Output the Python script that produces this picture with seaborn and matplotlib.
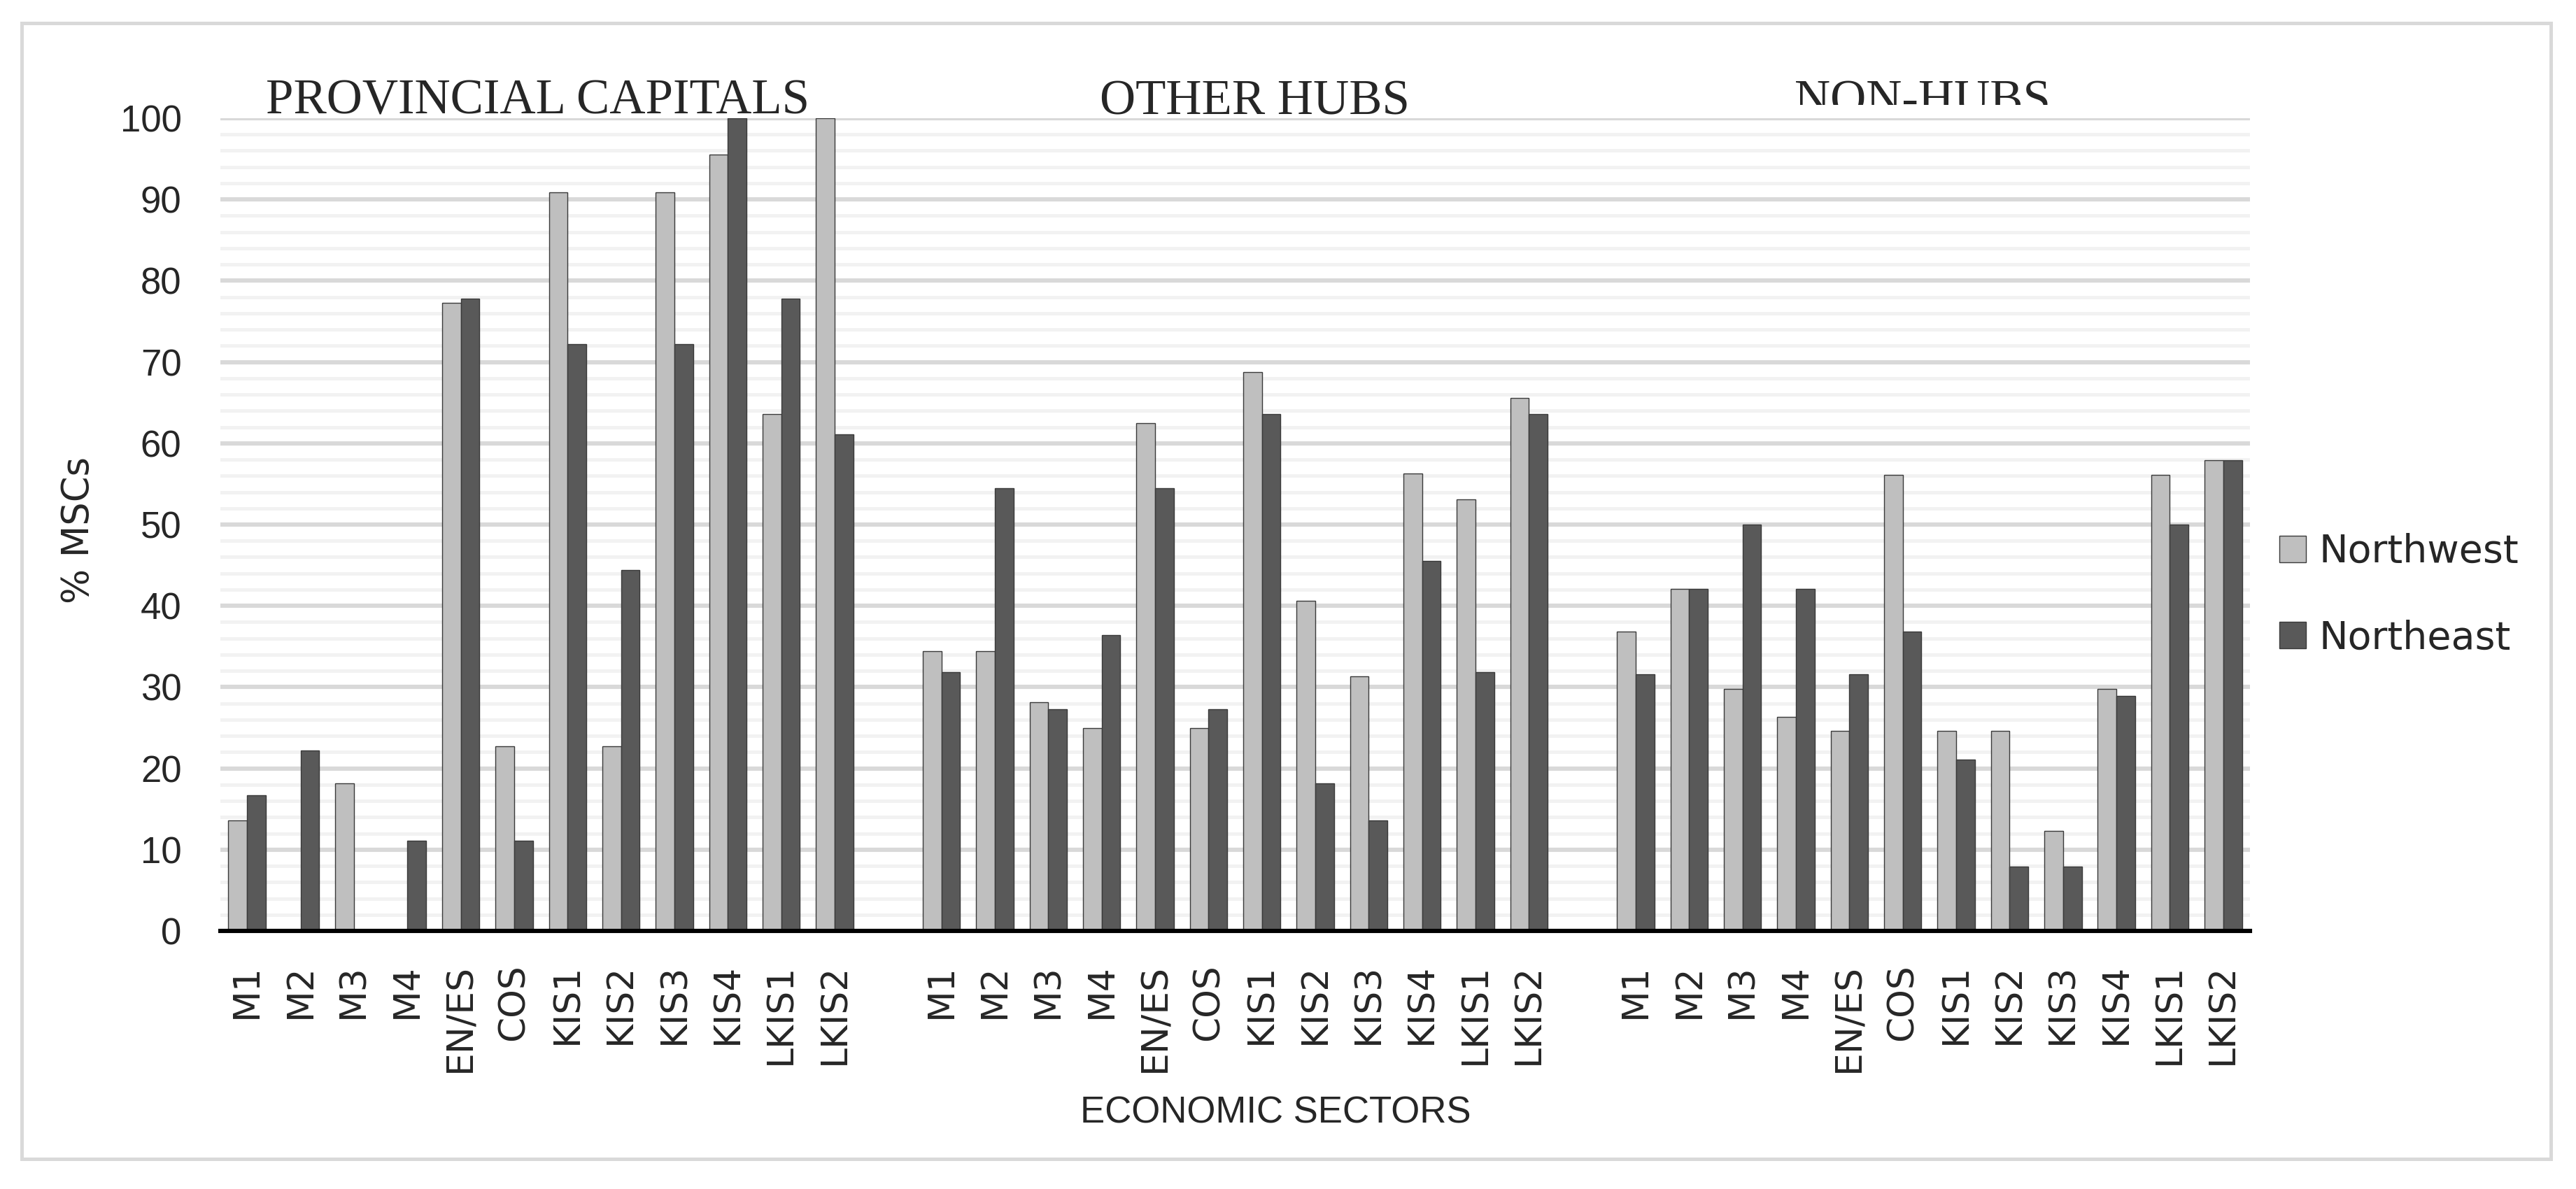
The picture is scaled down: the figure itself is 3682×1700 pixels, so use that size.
import matplotlib
matplotlib.use("Agg")
import matplotlib.pyplot as plt
from matplotlib.ticker import MultipleLocator
from matplotlib.patches import Rectangle
from matplotlib.transforms import Bbox, TransformedBbox
import seaborn as sns
import pandas as pd

# data (% of MSCs)
sectors = ["M1", "M2", "M3", "M4", "EN/ES", "COS", "KIS1", "KIS2", "KIS3", "KIS4", "LKIS1", "LKIS2"]
groups = ["PROVINCIAL CAPITALS", "OTHER HUBS", "NON-HUBS"]
regions = ["Northwest", "Northeast"]

nw_capitals = [13.6, 0, 18.2, 0, 77.3, 22.7, 90.9, 22.7, 90.9, 95.5, 63.6, 100]
ne_capitals = [16.7, 22.2, 0, 11.1, 77.8, 11.1, 72.2, 44.4, 72.2, 100, 77.8, 61.1]
nw_hubs = [34.4, 34.4, 28.1, 25.0, 62.5, 25.0, 68.8, 40.6, 31.3, 56.3, 53.1, 65.6]
ne_hubs = [31.8, 54.5, 27.3, 36.4, 54.5, 27.3, 63.6, 18.2, 13.6, 45.5, 31.8, 63.6]
nw_non = [36.8, 42.1, 29.8, 26.3, 24.6, 56.1, 24.6, 24.6, 12.3, 29.8, 56.1, 57.9]
ne_non = [31.6, 42.1, 50.0, 42.1, 31.6, 36.8, 21.1, 7.9, 7.9, 28.9, 50.0, 57.9]

nw_all = [nw_capitals, nw_hubs, nw_non]
ne_all = [ne_capitals, ne_hubs, ne_non]

rows = []
for g, nw, ne in zip(groups, nw_all, ne_all):
    for s, a, b in zip(sectors, nw, ne):
        rows.append({"slot": g + "|" + s, "region": "Northwest", "pct": a})
        rows.append({"slot": g + "|" + s, "region": "Northeast", "pct": b})
df = pd.DataFrame(rows)

# category order with one empty slot between the groups
order = []
for i, g in enumerate(groups):
    order += [g + "|" + s for s in sectors]
    if i < len(groups) - 1:
        order.append("gap%d" % i)

sns.set_style("white")
plt.rcParams["font.family"] = ["DejaVu Sans"]

W, H = 3682, 1700
fig = plt.figure(figsize=(W / 200, H / 200), dpi=200)
ax = fig.add_axes([315 / W, 1 - 1331 / H, (3216 - 315) / W, (1331 - 169) / H])

sns.barplot(data=df, x="slot", y="pct", hue="region", order=order, hue_order=regions,
            palette=["#bfbfbf", "#595959"], width=0.7, gap=0, errorbar=None,
            edgecolor="#3a3a3a", linewidth=0.5, ax=ax)

ax.set_ylim(0, 100)
ax.set_yticks(range(0, 101, 10))
ax.yaxis.set_minor_locator(MultipleLocator(2))
ax.set_axisbelow(True)
ax.grid(axis="y", which="major", color="#d9d9d9", linewidth=2.2)
ax.grid(axis="y", which="minor", color="#f2f2f2", linewidth=1.8)
ax.grid(axis="x", visible=False)

ax.set_xticks(range(len(order)))
ax.set_xticklabels([k.split("|")[1] if "|" in k else "" for k in order],
                   rotation=90, fontsize=18.7, va="top", ha="center")
ax.tick_params(axis="x", length=0, pad=17)
ax.tick_params(axis="y", which="both", length=0, pad=20, labelsize=19)
for lbl in ax.get_yticklabels():
    lbl.set_fontfamily("Liberation Sans")

for side in ["left", "right", "top"]:
    ax.spines[side].set_visible(False)
ax.spines["bottom"].set_color("black")
ax.spines["bottom"].set_linewidth(2.2)

ax.set_xlabel("")
ax.set_ylabel("")
fig.text(112 / W, 1 - 758 / H, "% MSCs", rotation=90, ha="center", va="center", fontsize=19)
fig.text(1823 / W, 1 - 1592 / H, "ECONOMIC SECTORS", ha="center", va="center",
         fontsize=19, family="Liberation Sans")

# group titles above the plot
title_x = [769, 1793, 2748]
for g, x in zip(groups, title_x):
    t = fig.text(x / W, 1 - 163 / H, g, ha="center", va="baseline",
                 fontsize=25.5, family="Liberation Serif")
    if g == "NON-HUBS":
        # the original text box cuts this one off
        t.set_clip_box(TransformedBbox(Bbox([[0, 1 - 150 / H], [1, 1]]), fig.transFigure))
        t.set_clip_on(True)

handles, labels = ax.get_legend_handles_labels()
ax.legend(handles, labels, loc="center left", bbox_to_anchor=(3258 / W, 1 - 851 / H),
          bbox_transform=fig.transFigure, frameon=False, fontsize=20,
          handlelength=0.68, handleheight=0.68, handletextpad=0.34,
          labelspacing=1.25, borderpad=0, borderaxespad=0)

fig.patches.append(Rectangle((31 / W, 1 - 1657 / H), (3646 - 31) / W, (1657 - 33) / H,
                             transform=fig.transFigure, fill=False,
                             edgecolor="#d9d9d9", linewidth=1.8))

fig.savefig("out.png", dpi=200, facecolor="white")
